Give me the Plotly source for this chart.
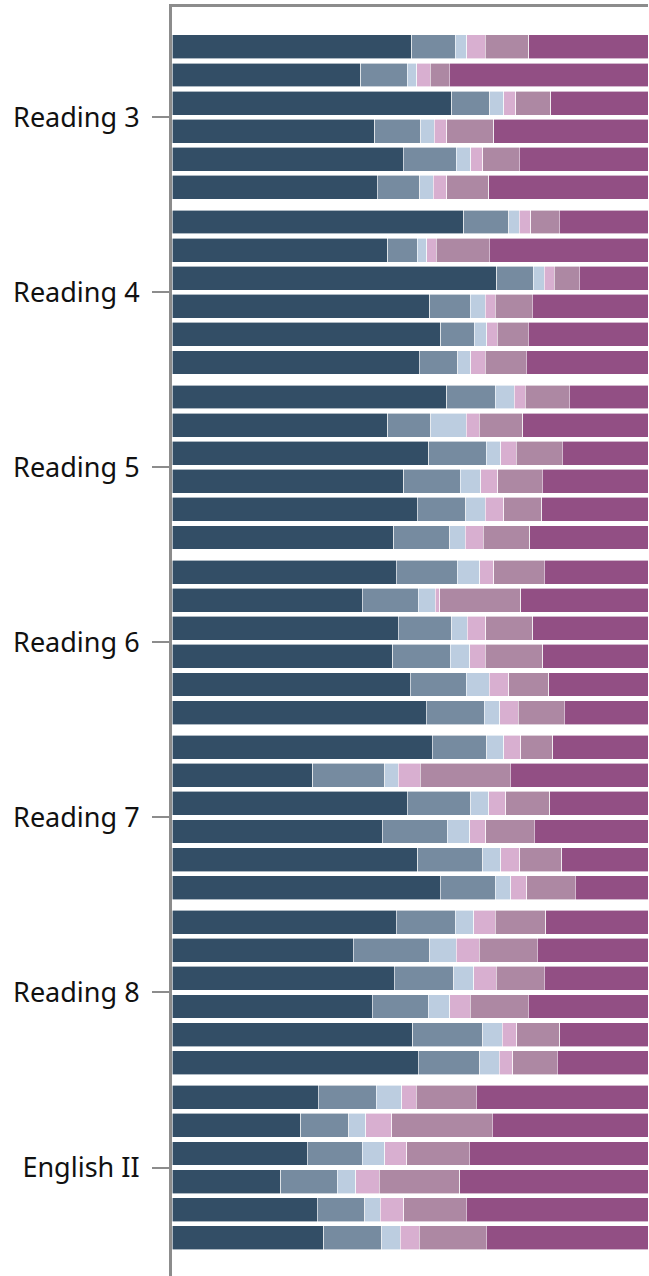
import plotly.graph_objects as go

# Subjects, each with six stacked bars (percent of students per band)
subjects = ["Reading 3", "Reading 4", "Reading 5", "Reading 6",
            "Reading 7", "Reading 8", "English II"]
bars_per_subject = 6

band_names = ["Band 1", "Band 2", "Band 3", "Band 4", "Band 5", "Band 6"]
band_colors = ["#334e66", "#768ba0", "#bccde0", "#d8afd0", "#ad88a3", "#924f84"]

band1 = [50.4, 39.6, 58.8, 42.6, 48.6, 43.1,
         61.3, 45.3, 68.2, 54.2, 56.5, 51.9,
         57.7, 45.3, 53.9, 48.7, 51.5, 46.6,
         47.1, 40.0, 47.5, 46.4, 50.1, 53.4,
         54.7, 29.6, 49.4, 44.2, 51.6, 56.4,
         47.1, 38.1, 46.7, 42.1, 50.6, 51.7,
         30.7, 27.0, 28.4, 22.8, 30.5, 31.9]
band2 = [9.1, 9.8, 8.0, 9.7, 11.1, 8.9,
         9.4, 6.2, 7.7, 8.5, 7.0, 8.1,
         10.2, 9.1, 12.1, 11.9, 10.2, 11.7,
         12.8, 11.7, 11.3, 12.1, 11.7, 12.2,
         11.4, 15.1, 13.4, 13.6, 13.7, 11.5,
         12.4, 16.0, 12.5, 11.7, 14.7, 12.9,
         12.2, 10.1, 11.6, 11.9, 10.0, 12.2]
band3 = [2.4, 2.0, 2.9, 2.8, 3.1, 2.9,
         2.3, 2.0, 2.3, 3.1, 2.6, 2.8,
         4.0, 7.4, 3.1, 4.3, 4.1, 3.3,
         4.7, 3.6, 3.2, 4.0, 4.9, 3.3,
         3.6, 2.8, 3.7, 4.8, 3.8, 3.3,
         3.9, 5.6, 4.2, 4.6, 4.1, 4.1,
         5.4, 3.6, 4.7, 3.9, 3.2, 3.8]
band4 = [3.9, 2.9, 2.5, 2.6, 2.5, 2.8,
         2.4, 2.0, 2.1, 2.1, 2.2, 3.0,
         2.3, 2.7, 3.2, 3.5, 3.9, 3.8,
         3.0, 0.9, 3.9, 3.3, 4.0, 3.8,
         3.6, 4.7, 3.6, 3.3, 4.0, 3.3,
         4.5, 4.8, 4.7, 4.3, 3.0, 2.9,
         3.0, 5.5, 4.6, 4.9, 5.0, 4.0]
band5 = [9.1, 3.9, 7.4, 9.9, 7.6, 8.8,
         6.0, 11.2, 5.3, 7.8, 6.5, 8.6,
         9.3, 9.2, 9.7, 9.4, 8.0, 9.8,
         10.6, 17.1, 9.9, 12.1, 8.4, 9.7,
         6.7, 18.9, 9.3, 10.2, 8.8, 10.2,
         10.6, 12.2, 10.1, 12.1, 9.1, 9.3,
         12.6, 21.1, 13.1, 16.9, 13.1, 14.1]
band6 = [25.1, 41.8, 20.4, 32.4, 27.1, 33.5,
         18.6, 33.3, 14.4, 24.3, 25.2, 25.6,
         16.5, 26.3, 18.0, 22.2, 22.3, 24.8,
         21.8, 26.7, 24.2, 22.1, 20.9, 17.6,
         20.0, 28.9, 20.6, 23.9, 18.1, 15.3,
         21.5, 23.3, 21.8, 25.2, 18.5, 19.1,
         36.1, 32.7, 37.6, 39.6, 38.2, 34.0]

bands = [band1, band2, band3, band4, band5, band6]

# Bar positions: six bars per subject with a small extra gap between subjects
group_step = 6.23
positions = [g * group_step + j
             for g in range(len(subjects)) for j in range(bars_per_subject)]
tick_positions = [g * group_step + (bars_per_subject - 1) / 2
                  for g in range(len(subjects))]

fig = go.Figure()
for name, color, values in zip(band_names, band_colors, bands):
    fig.add_trace(go.Bar(
        x=values, y=positions, orientation="h", name=name,
        width=0.85,
        marker=dict(color=color, line=dict(color="white", width=0.6)),
        hoverinfo="x+name",
    ))

last = positions[-1]
fig.update_layout(
    barmode="stack",
    width=649, height=1276,
    margin=dict(l=172, r=1, t=7, b=0, autoexpand=False),
    paper_bgcolor="white", plot_bgcolor="white",
    showlegend=False,
    font=dict(family="Noto Sans", size=27, color="#111111"),
    xaxis=dict(range=[0, 100], side="top", showline=True, linecolor="#8c8c8c",
               linewidth=2.5, showticklabels=False, ticks="", showgrid=False,
               zeroline=False, fixedrange=True),
    yaxis=dict(range=[last + 1.36, -1.42], tickmode="array",
               tickvals=tick_positions, ticktext=subjects,
               ticks="outside", ticklen=17, tickwidth=2, tickcolor="#8c8c8c",
               showline=True, linecolor="#8c8c8c", linewidth=3,
               showgrid=False, zeroline=False, ticklabelstandoff=7,
               fixedrange=True),
)

fig.write_html("out.html")
